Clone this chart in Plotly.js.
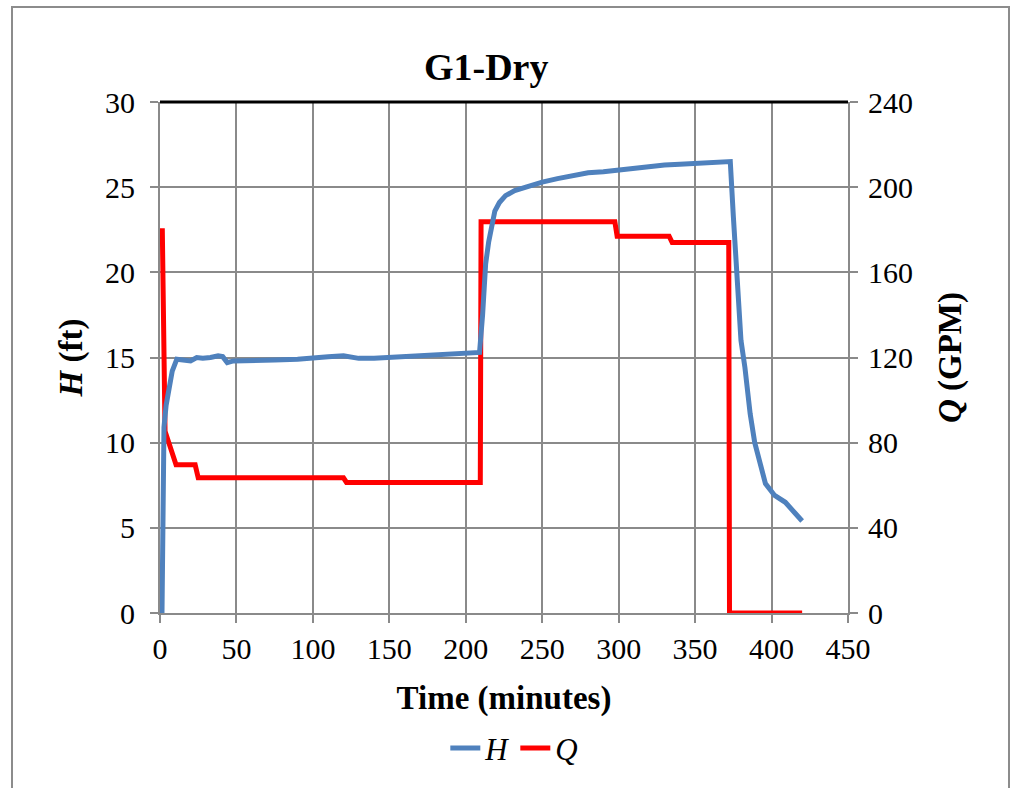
<!DOCTYPE html>
<html>
<head>
<meta charset="utf-8">
<script src="https://cdn.plot.ly/plotly-3.0.1.min.js"></script>
<style>
  html, body { margin: 0; padding: 0; background: #ffffff; }
  #wrap { position: relative; width: 1013px; height: 788px; overflow: hidden; }
  #chart { position: absolute; left: 0; top: 0; width: 1013px; height: 788px; }
  #frame { position: absolute; left: 11px; top: 6px; width: 995px; height: 800px;
           border: 2px solid #8c8c8c; pointer-events: none; }
</style>
</head>
<body>
<div id="wrap">
  <div id="chart"></div>
  <div id="frame"></div>
</div>
<script>
// ---- Data ----
// H (ft) versus time (minutes)
const hTime = [1.3, 2.0, 2.6, 4.0, 6.0, 8.0, 11, 15, 20, 24, 28, 33, 38, 41, 44, 48,
  60, 75, 90, 100, 110, 120, 125, 130, 140, 150, 160, 170, 180, 190, 200, 209,
  211, 213, 215, 217, 219, 222, 226, 232, 240, 250, 260, 270, 280, 290, 300,
  310, 320, 330, 340, 350, 360, 370, 373, 375, 378, 380, 382.6, 386, 389, 392.5,
  396, 402, 409, 415, 420];
const hValue = [0, 6.0, 10.9, 12.2, 13.2, 14.2, 14.9, 14.85, 14.8, 15.0, 14.95, 15.0, 15.1, 15.05, 14.7, 14.8,
  14.85, 14.85, 14.9, 15.0, 15.05, 15.1, 15.05, 14.95, 14.95, 15.0, 15.1, 15.15, 15.2, 15.2, 15.25, 15.3,
  17.5, 20.5, 21.8, 22.8, 23.6, 24.1, 24.5, 24.8, 25.05, 25.3, 25.5, 25.7, 25.85, 25.9, 26.0,
  26.1, 26.25, 26.3, 26.35, 26.4, 26.5, 26.55, 26.5, 23.3, 18.4, 16.0, 14.4, 11.7, 10.0, 8.8,
  7.6, 6.9, 6.5, 5.9, 5.4];

// Q (GPM) versus time (minutes)
const qTime = [1.5, 3.3, 10.5, 23, 25, 120, 122, 209.5, 210, 297.5, 299, 333, 335, 372, 372.5, 420];
const qValue = [180.7, 85.4, 69.6, 69.6, 63.5, 63.5, 61.3, 61.3, 183.8, 183.8, 177, 177, 174, 174, 0, 0];

// Axis ticks
const xTicks = [0, 50, 100, 150, 200, 250, 300, 350, 400, 450];
const hTicks = [0, 5, 10, 15, 20, 25, 30];
const qTicks = [0, 40, 80, 120, 160, 200, 240];

const FONT = '"Liberation Serif", "Times New Roman", serif';

const traces = [
  {
    x: qTime, y: qValue, name: '<i>Q</i>', type: 'scatter', mode: 'lines',
    yaxis: 'y2', legendrank: 2,
    line: { color: '#ff0000', width: 5 }
  },
  {
    x: hTime, y: hValue, name: '<i>H</i>', type: 'scatter', mode: 'lines',
    yaxis: 'y', legendrank: 1,
    line: { color: '#4f81bd', width: 5 }
  }
];

const layout = {
  width: 1013, height: 788,
  paper_bgcolor: 'rgba(0,0,0,0)', plot_bgcolor: '#ffffff',
  margin: { l: 160, r: 165, t: 102, b: 172 },
  font: { family: FONT, color: '#000000', size: 30 },
  title: {
    text: '<b>G1-Dry</b>', font: { family: FONT, size: 38, color: '#000000' },
    xref: 'container', yref: 'container', x: 0.48, xanchor: 'center', y: 0.915, yanchor: 'middle'
  },
  showlegend: true,
  legend: {
    orientation: 'h', x: 0.515, xanchor: 'center', y: -0.265, yanchor: 'middle',
    font: { family: FONT, size: 31 }, bgcolor: 'rgba(0,0,0,0)', itemwidth: 30
  },
  xaxis: {
    range: [0, 450], tickvals: xTicks, ticktext: xTicks.map(String),
    showgrid: true, gridcolor: '#8a8a8a', gridwidth: 2,
    showline: true, linecolor: '#8a8a8a', linewidth: 2,
    ticks: 'outside', ticklen: 8, tickcolor: '#8a8a8a', tickwidth: 2,
    zeroline: false, tickfont: { family: FONT, size: 30 }, ticklabelstandoff: 0,
    title: { text: '<b>Time (minutes)</b>', font: { family: FONT, size: 33 }, standoff: 22 }
  },
  yaxis: {
    range: [0, 30], tickvals: hTicks, ticktext: hTicks.map(String),
    showgrid: true, gridcolor: '#8a8a8a', gridwidth: 2,
    showline: true, linecolor: '#8a8a8a', linewidth: 2,
    ticks: 'outside', ticklen: 8, tickcolor: '#8a8a8a', tickwidth: 2,
    zeroline: false, tickfont: { family: FONT, size: 30 }, ticklabelstandoff: 9,
    overlaying: 'y2',
    title: { text: '<b><i>H</i> (ft)</b>', font: { family: FONT, size: 33 }, standoff: 12 }
  },
  yaxis2: {
    range: [0, 240], tickvals: qTicks, ticktext: qTicks.map(String),
    side: 'right', showgrid: false,
    showline: true, linecolor: '#8a8a8a', linewidth: 2,
    ticks: 'outside', ticklen: 8, tickcolor: '#8a8a8a', tickwidth: 2,
    zeroline: false, tickfont: { family: FONT, size: 30 }, ticklabelstandoff: 4,
    title: { text: '<b><i>Q</i> (GPM)</b>', font: { family: FONT, size: 33 }, standoff: 26 }
  },
  shapes: [
    { type: 'line', xref: 'paper', yref: 'paper', x0: 0, x1: 1, y0: 1, y1: 1,
      line: { color: '#000000', width: 3 }, layer: 'above' }
  ]
};

Plotly.newPlot('chart', traces, layout, { displayModeBar: false, staticPlot: true });
</script>
</body>
</html>
